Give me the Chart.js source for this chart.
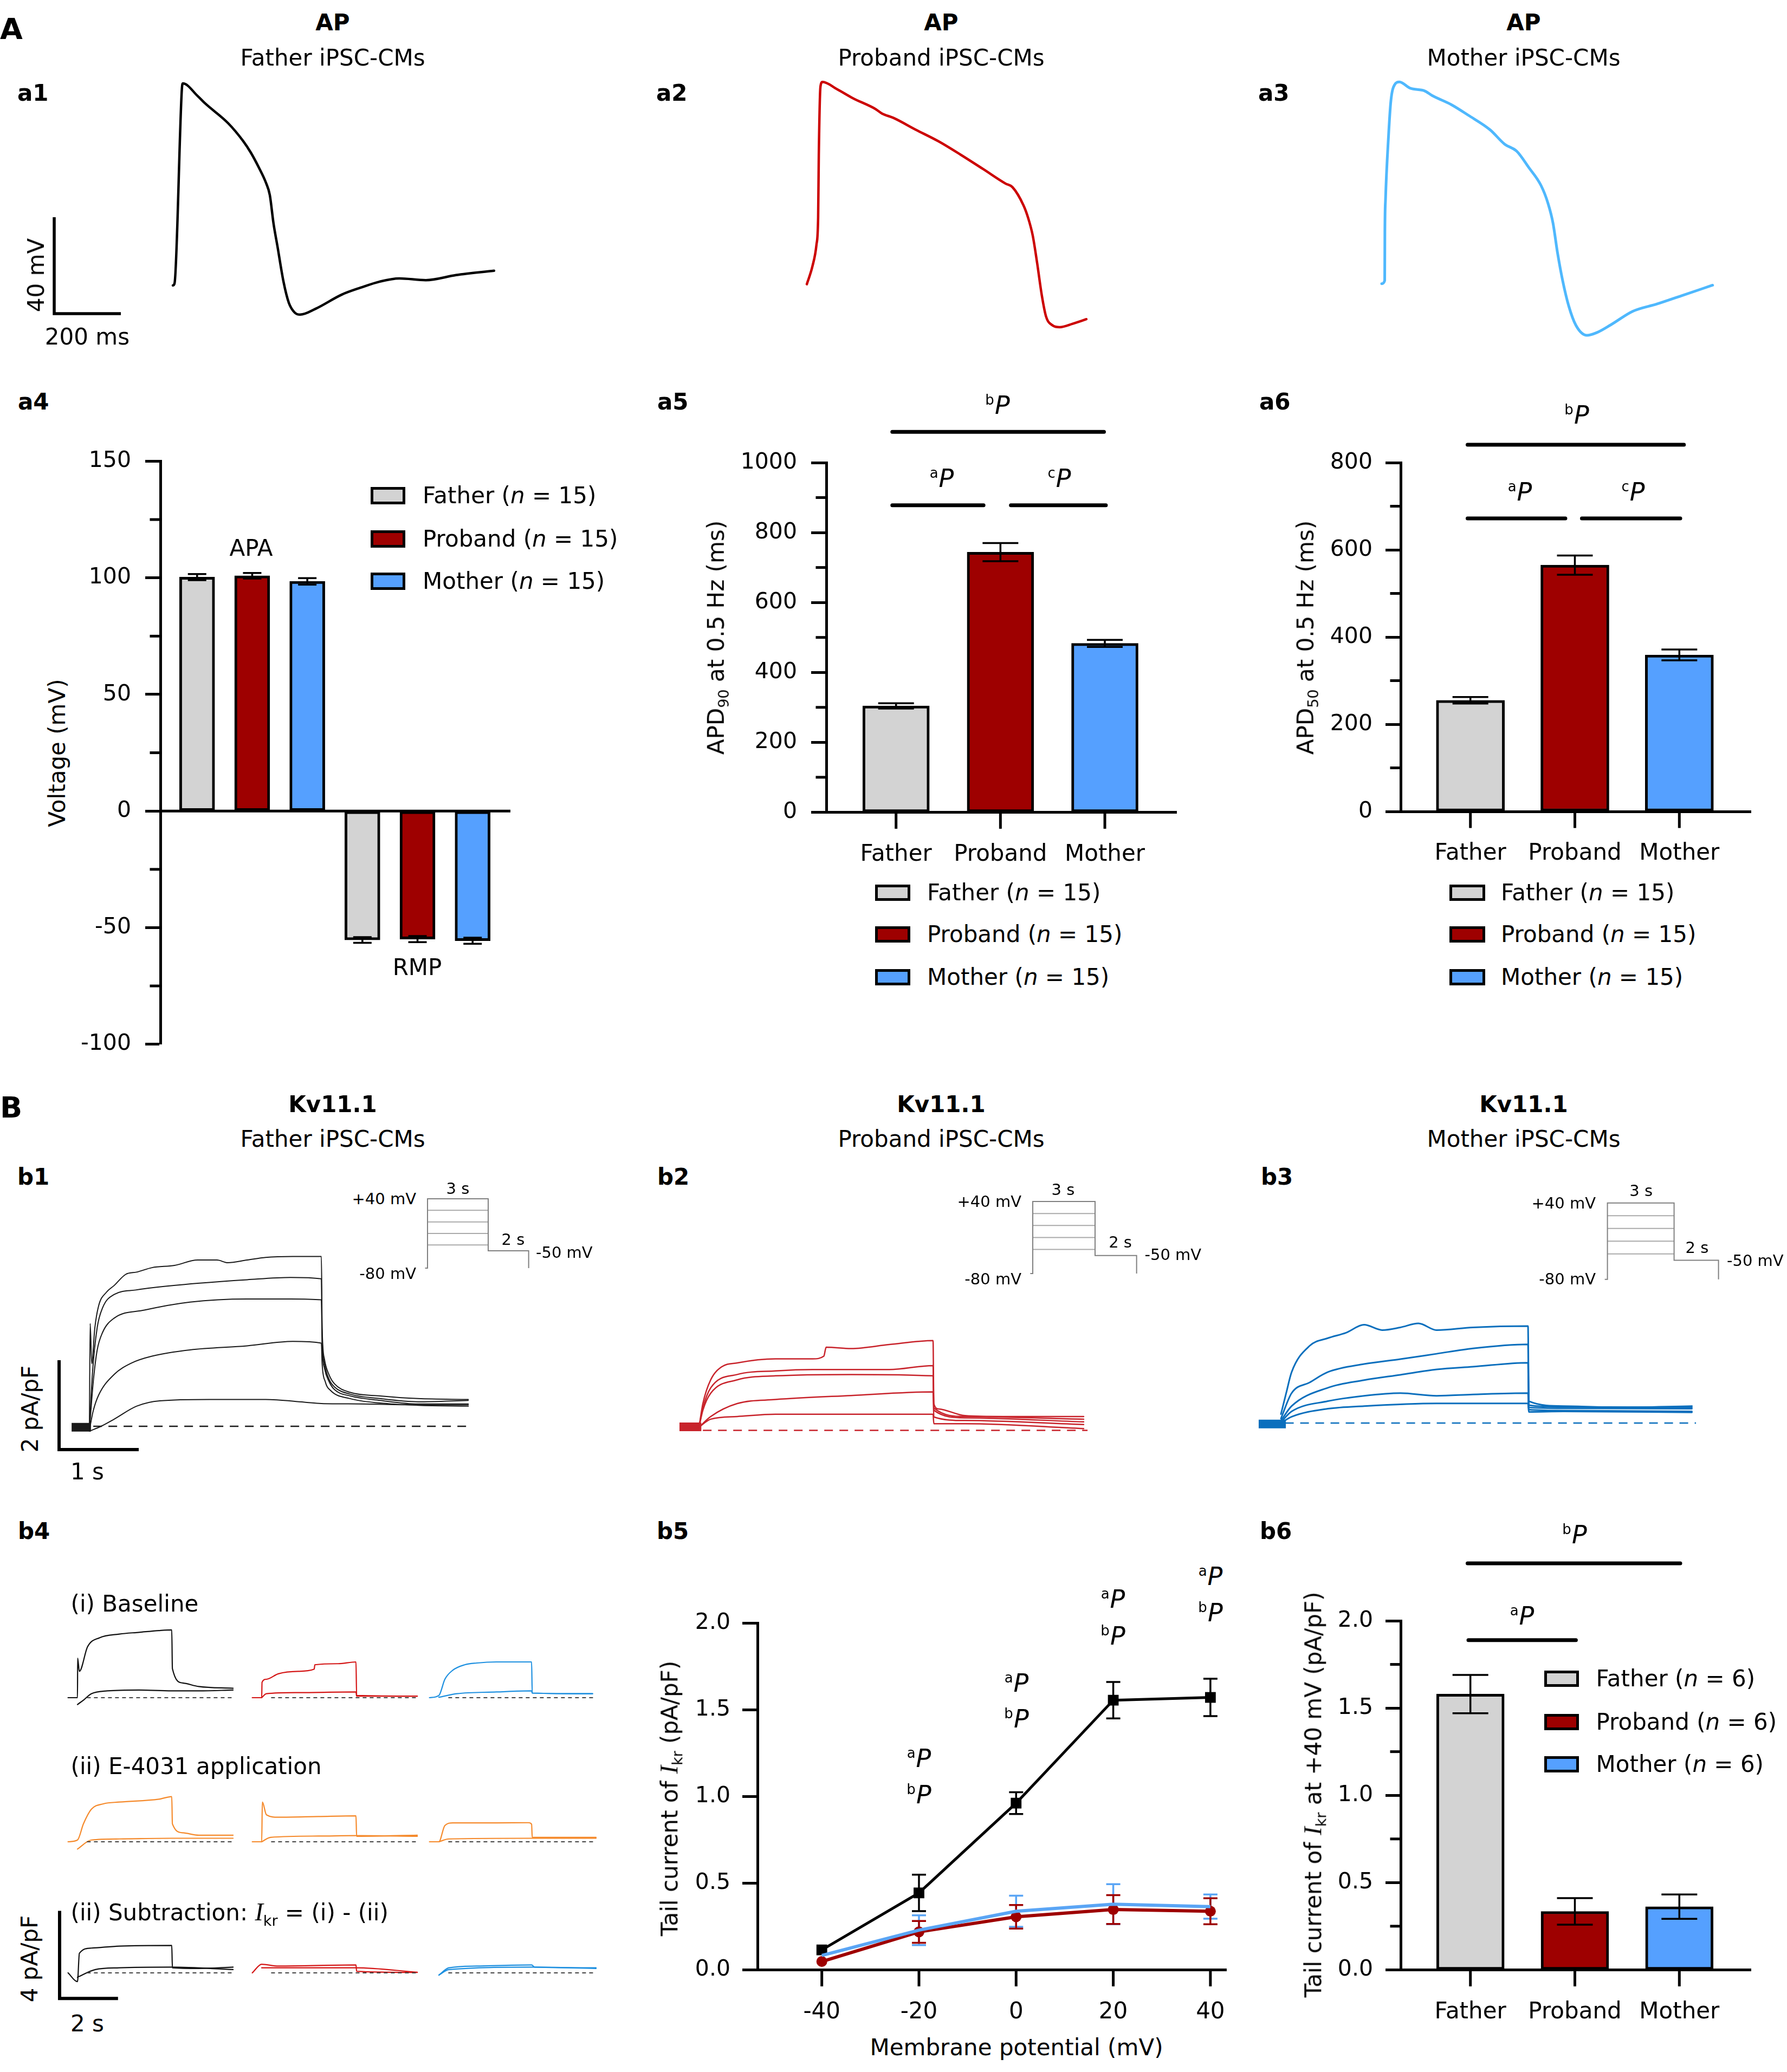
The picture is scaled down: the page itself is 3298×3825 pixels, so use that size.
<!DOCTYPE html>
<html><head><meta charset="utf-8">
<script src="https://cdn.jsdelivr.net/npm/chart.js@4.4.1/dist/chart.umd.min.js"></script>
<style>
body{margin:0;background:#fff}
#root{position:relative;width:3298px;height:3825px;overflow:hidden;background:#fff;font-family:"DejaVu Sans";color:#000}
.t{position:absolute;white-space:nowrap;line-height:1;font-size:42px}
.c{transform:translate(-50%,-50%)}
.l{transform:translate(0,-50%)}
.r{transform:translate(-100%,-50%)}
.v{transform:translate(-50%,-50%) rotate(-90deg)}
.b{font-weight:bold}
.box{position:absolute;box-sizing:border-box;border:5px solid #000}
.sup{font-size:26px;position:relative;top:-17px;margin-right:1px}
.P{font-size:46px;font-style:italic}
</style></head>
<body><div id="root"></div>
<script>
// ================= DATA =================
const groups = ['Father', 'Proband', 'Mother'];
const nAP = 15, nKv = 6;

// AP traces: [time ms, membrane potential mV]
const apFather = [[0,-68.3],[5,-67.5],[27,13],[30,15.5],[75,10.2],[97,7.2],[166,-1.0],[211,-8.4],[234,-13.2],[257,-19.1],[280,-25.9],[291,-30.8],[302,-42.5],[314,-52.1],[332,-66.7],[348,-75.5],[366,-79.6],[382,-80.4],[428,-78],[507,-72.1],[564,-69.2],[621,-66.7],[680,-65.4],[759,-66.1],[850,-64],[964,-62.2]];
const apProband = [[0,-67.8],[17,-60.3],[29,-51.4],[34,-40.2],[36,-14.2],[41,14.2],[47,16.1],[91,13.1],[138,9.4],[206,4.9],[226,3.0],[260,1.2],[327,-3.7],[395,-8.5],[462,-14.1],[530,-20.1],[597,-26.1],[617,-27.5],[650,-35.0],[664,-40.2],[678,-47.6],[691,-58.8],[705,-72.2],[718,-81.2],[738,-84.9],[759,-85.6],[798,-84.2],[839,-82.3]];
const apMother = [[0,-67.6],[9,-66.3],[9.5,-46.2],[11.4,-32.8],[20.3,-6.7],[27.6,8.3],[38.5,14.9],[53,16.1],[86,13.5],[129,12.4],[151,10.5],[209,6.7],[260,2.3],[325,-3.7],[369,-9.7],[405,-12.6],[441,-19.3],[478,-26.8],[499,-34.2],[514,-42.4],[528,-55.1],[543,-66.3],[561,-76.7],[583,-84.9],[616,-89.0],[645,-87.9],[688,-84.6],[754,-79.0],[826,-76.0],[899,-72.6],[993,-68.2]];
const apScaleBar = [[-356,-40],[-356,-80],[-156,-80]];   // 40 mV / 200 ms

// a4 APA / RMP (mV)
const apaMean = [100.3, 100.9, 98.5];
const apaSEM  = [1.3, 1.2, 1.4];
const rmpMean = [-55.3, -54.9, -55.6];
const rmpSEM  = [1.2, 1.3, 1.3];
const a4Ticks = [-100, -50, 0, 50, 100, 150];
const a4Minor = [-75, -25, 25, 75, 125];

// a5 APD90 (ms)
const apd90Mean = [304, 744, 483];
const apd90SEM  = [7.5, 26, 10];
const a5Ticks = [0, 200, 400, 600, 800, 1000];
const a5Minor = [100, 300, 500, 700, 900];
const sigA5 = [[-0.036, 0.838, 878], [1.10, 2.01, 878], [-0.036, 1.992, 1088]];

// a6 APD50 (ms)
const apd50Mean = [255, 565, 359];
const apd50SEM  = [7.5, 22, 12.5];
const a6Ticks = [0, 200, 400, 600, 800];
const a6Minor = [100, 300, 500, 700];
const sigA6 = [[-0.027, 0.909, 672], [1.067, 2.009, 672], [-0.027, 2.044, 841]];

// Kv11.1 current traces: [time s, current pA/pF]
const kvFather = [
 [[0,-0.08],[0.01,2.3],[0.03,1.4],[0.07,2.2],[0.12,2.7],[0.22,3.0],[0.32,3.15],[0.47,3.4],[0.61,3.45],[0.81,3.55],[1.1,3.6],[1.40,3.72],[1.65,3.72],[1.79,3.66],[2.04,3.72],[2.28,3.78],[2.63,3.80],[3.0,3.80],[3.01,2.2],[3.04,1.5],[3.1,1.15],[3.17,0.95],[3.37,0.76],[3.76,0.68],[4.25,0.62],[4.9,0.60]],
 [[0,-0.08],[0.04,1.2],[0.1,2.2],[0.17,2.65],[0.32,2.95],[0.6,3.05],[0.81,3.1],[1.40,3.2],[2.04,3.28],[2.6,3.33],[3.0,3.30],[3.01,2.0],[3.04,1.4],[3.1,1.05],[3.17,0.88],[3.37,0.72],[3.76,0.62],[4.25,0.55],[4.9,0.58]],
 [[0,-0.08],[0.05,1.0],[0.1,1.7],[0.17,2.1],[0.32,2.42],[0.71,2.6],[1.30,2.78],[2.04,2.85],[2.6,2.85],[3.0,2.83],[3.01,1.8],[3.04,1.3],[3.1,1.0],[3.17,0.82],[3.37,0.68],[3.76,0.58],[4.25,0.50],[4.9,0.50]],
 [[0,-0.08],[0.05,0.35],[0.12,0.7],[0.32,1.16],[0.55,1.42],[0.81,1.57],[1.30,1.71],[2.04,1.80],[2.63,1.90],[3.0,1.86],[3.01,1.4],[3.05,1.0],[3.12,0.8],[3.37,0.62],[3.76,0.52],[4.25,0.47],[4.9,0.45]],
 [[0,-0.11],[0.15,0.0],[0.32,0.16],[0.61,0.45],[0.91,0.57],[1.55,0.60],[2.28,0.60],[2.78,0.54],[3.0,0.51],[3.5,0.50],[4.25,0.48],[4.9,0.48]]
];
const kvProband = [
 [[0,0.07],[0.05,0.6],[0.15,1.13],[0.29,1.42],[0.49,1.51],[0.98,1.60],[1.46,1.60],[1.60,1.66],[1.63,1.86],[1.95,1.83],[2.44,1.92],[3.0,2.01],[3.01,0.6],[3.07,0.48],[3.41,0.33],[3.90,0.31],[4.93,0.31]],
 [[0,0.07],[0.05,0.5],[0.15,0.95],[0.49,1.25],[0.98,1.33],[1.46,1.36],[2.44,1.36],[3.0,1.45],[3.01,0.5],[3.41,0.31],[4.93,0.25]],
 [[0,0.07],[0.05,0.45],[0.15,0.83],[0.49,1.13],[0.98,1.22],[1.95,1.25],[3.0,1.22],[3.01,0.45],[3.41,0.28],[4.93,0.19]],
 [[0,0.07],[0.15,0.31],[0.49,0.60],[0.98,0.69],[1.95,0.78],[3.0,0.86],[3.01,0.3],[3.41,0.22],[4.93,0.13]],
 [[0,0.07],[0.15,0.25],[0.49,0.31],[0.98,0.36],[1.95,0.36],[3.0,0.36],[3.01,0.15],[3.41,0.15],[4.93,0.04]]
];
const kvMother = [
 [[0,0.20],[0.064,0.67],[0.13,1.14],[0.35,1.73],[0.57,1.90],[0.79,2.02],[1.01,2.20],[1.23,2.08],[1.45,2.14],[1.67,2.23],[1.89,2.08],[2.33,2.14],[3.0,2.17],[3.01,0.49],[3.43,0.38],[4.09,0.35],[4.99,0.38]],
 [[0,0.1],[0.13,0.67],[0.35,0.91],[0.57,1.14],[1.01,1.32],[1.45,1.43],[1.89,1.55],[2.33,1.67],[3.0,1.76],[3.01,0.4],[3.43,0.36],[4.99,0.35]],
 [[0,0.05],[0.13,0.38],[0.57,0.79],[1.01,0.96],[1.45,1.08],[1.89,1.20],[2.33,1.26],[3.0,1.35],[3.01,0.35],[3.43,0.33],[4.99,0.32]],
 [[0,0.02],[0.13,0.26],[0.57,0.49],[1.01,0.61],[1.45,0.67],[1.89,0.61],[2.33,0.64],[3.0,0.67],[3.01,0.3],[3.43,0.28],[4.99,0.26]],
 [[0,0.0],[0.13,0.14],[0.57,0.32],[1.01,0.38],[1.89,0.44],[3.0,0.44],[3.01,0.25],[3.43,0.26],[4.99,0.24]]
];
const kvHoldFather  = [[-0.23,-0.02],[0.02,-0.02]];
const kvHoldProband = [[-0.25,0.08],[0.03,0.08]];
const kvHoldMother  = [[-0.27,-0.02],[0.06,-0.02]];
const kvScaleBar = [[-0.392,1.479],[-0.392,-0.521],[0.638,-0.521]];   // 2 pA/pF / 1 s

// voltage protocol (mV, s)
const protoLevels = [40, 20, 0, -20, -40];
const protoHold = -80, protoTail = -50, protoStepDur = 3, protoTailDur = 2;

// b4 traces [s, pA/pF]
const b4BaseFather = [
 [[-0.3,0],[0,0],[0.005,1.8],[0.06,1.2],[0.32,2.32],[0.70,2.73],[1.33,2.90],[1.96,2.98],[2.59,3.06],[3.0,3.09],[3.02,1.33],[3.35,0.67],[3.86,0.51],[4.95,0.43]],
 [[0,-0.31],[0.2,-0.1],[0.44,0.18],[0.95,0.31],[1.96,0.35],[3.0,0.31],[3.86,0.31],[4.95,0.35]]];
const b4BaseProband = [
 [[-0.3,0],[0,0],[0.01,0.7],[0.15,0.84],[0.53,1.09],[1.16,1.20],[1.67,1.30],[1.69,1.50],[2.43,1.55],[3.0,1.63],[3.02,0.1],[4.95,0.07]],
 [[0,0],[0.15,0.18],[1.16,0.23],[3.0,0.26],[3.02,0.07],[4.95,0.07]]];
const b4BaseMother = [
 [[-0.3,0],[0,0.1],[0.19,0.84],[0.44,1.25],[0.82,1.50],[1.20,1.58],[1.83,1.63],[2.95,1.63],[2.97,0.21],[4.89,0.18]],
 [[0,0.02],[0.57,0.18],[1.83,0.26],[2.95,0.31],[2.97,0.21],[4.89,0.18]]];
const b4E4031Father = [
 [[-0.3,0],[0,0.08],[0.19,0.82],[0.44,1.48],[0.82,1.73],[1.33,1.81],[2.59,1.94],[3.0,2.06],[3.02,0.82],[3.35,0.41],[3.86,0.30],[4.95,0.30]],
 [[0,-0.33],[0.44,0.08],[1.33,0.13],[3.0,0.16],[4.95,0.16]]];
const b4E4031Proband = [
 [[-0.3,0],[0,0],[0.02,1.81],[0.15,1.23],[0.53,1.12],[1.8,1.15],[3.0,1.18],[3.02,0.25],[4.95,0.30]],
 [[0,0],[0.28,0.20],[1.8,0.26],[3.0,0.28],[4.95,0.25]]];
const b4E4031Mother = [
 [[-0.3,0],[0,0],[0.19,0.74],[0.44,0.86],[1.83,0.86],[2.85,0.87],[2.95,0.8],[2.97,0.2],[5.0,0.2]],
 [[0,0],[0.32,0.13],[2.95,0.16],[5.0,0.16]]];
const b4SubFather = [
 [[-0.3,0],[0,-0.4],[0.06,0.89],[0.44,1.13],[1.33,1.22],[3.0,1.25],[3.02,0.23],[3.86,0.20],[4.95,0.26]],
 [[0,-0.2],[0.57,0.15],[1.33,0.23],[3.0,0.26],[4.95,0.15]]];
const b4SubProband = [
 [[-0.3,0],[0,0.39],[0.53,0.31],[3.0,0.36],[3.02,0.07],[4.95,0.02]],
 [[0,0.23],[3.0,0.23],[4.95,0.03]]];
const b4SubMother = [
 [[0,-0.1],[0.32,0.23],[1.20,0.31],[2.95,0.36],[3.05,0.26],[5.0,0.23]],
 [[0,-0.1],[0.32,0.15],[2.95,0.26],[5.0,0.20]]];
const b4ScaleBar = [[-0.569,2.83],[-0.569,-1.168],[1.29,-1.168]];   // 4 pA/pF / 2 s

// b5 tail current-voltage
const membraneV = [-40, -20, 0, 20, 40];
const tailFather  = [0.115, 0.444, 0.962, 1.556, 1.572];
const tailFatherSEM  = [0, 0.105, 0.063, 0.105, 0.108];
const tailProband = [0.048, 0.219, 0.306, 0.348, 0.338];
const tailProbandSEM = [0, 0.063, 0.068, 0.083, 0.075];
const tailMother  = [0.083, 0.229, 0.338, 0.379, 0.365];
const tailMotherSEM  = [0, 0.086, 0.09, 0.115, 0.07];
const b5YTicks = [0, 0.5, 1, 1.5, 2];

// b6 tail current at +40 mV
const tail40Mean = [1.58, 0.335, 0.362];
const tail40SEM  = [0.11, 0.076, 0.07];
const b6Ticks = [0, 0.5, 1, 1.5, 2];
const b6Minor = [0.25, 0.75, 1.25, 1.75];
const sigB6 = [[-0.019, 1.01, 1.889], [-0.027, 2.009, 2.329]];

// ================= STYLE =================
const FILL = ['#d3d3d3', '#9e0000', '#55a0ff'];
const LINE5 = ['#000000', '#9e0000', '#5aa5f5'];
Chart.defaults.font.family = 'DejaVu Sans';
Chart.defaults.color = '#000';
Chart.defaults.animation = false;
const root = document.getElementById('root');

function mkCanvas(l, t, w, h) {
  const c = document.createElement('canvas');
  c.width = w; c.height = h;
  c.style.cssText = `position:absolute;left:${l}px;top:${t}px;width:${w}px;height:${h}px`;
  root.appendChild(c); return c;
}
function txt(html, x, y, cls, style) {
  const d = document.createElement('div');
  d.className = 't ' + (cls || 'c');
  d.style.left = x + 'px'; d.style.top = y + 'px';
  if (style) d.style.cssText += style;
  d.innerHTML = html; root.appendChild(d); return d;
}
function sig(letter) { return `<span class="sup">${letter}</span><span class="P">P</span>`; }
function pts(pairs) { return pairs.map(p => ({x: p[0], y: p[1]})); }
function ln(pairs, color, width, opt) {
  return Object.assign({data: pts(pairs), borderColor: color, borderWidth: width, pointRadius: 0, fill: false,
    cubicInterpolationMode: 'monotone', clip: false, borderJoinStyle: 'round', borderCapStyle: 'round'}, opt || {});
}
function straight(pairs, color, width, opt) {
  return ln(pairs, color, width, Object.assign({cubicInterpolationMode: 'default', tension: 0, borderCapStyle: 'butt', borderJoinStyle: 'miter'}, opt || {}));
}
// trace panel with a calibrated frame: origin pixel (ox, oy) and pixels per unit (sx, sy)
function frameChart(f, datasets) {
  const cv = mkCanvas(f.left, f.top, f.w, f.h);
  return new Chart(cv, {type: 'line', data: {datasets},
    options: {responsive: false, animation: false, devicePixelRatio: 1, events: [],
      layout: {autoPadding: false, padding: 0},
      plugins: {legend: {display: false}, tooltip: {enabled: false}},
      scales: {
        x: {type: 'linear', display: false, min: (f.left - f.ox) / f.sx, max: (f.left + f.w - f.ox) / f.sx},
        y: {type: 'linear', display: false, min: (f.oy - f.top - f.h) / f.sy, max: (f.oy - f.top) / f.sy}}}});
}

// -------- plugins --------
function errorPlugin() {
  function draw(chart, behind) {
    const ctx = chart.ctx, ys = chart.scales.y;
    chart.data.datasets.forEach((ds, di) => {
      if (!ds.errors || !!ds.errorBehind !== behind) return;
      const meta = chart.getDatasetMeta(di);
      meta.data.forEach((el, i) => {
        const e = ds.errors[i]; if (!e) return;
        const v = ds.data[i].y;
        const yt = ys.getPixelForValue(v + e), yb = ys.getPixelForValue(v - e);
        const hw = (ds.errorCap || 30) / 2;
        ctx.save();
        ctx.strokeStyle = ds.errorColor || '#000'; ctx.lineWidth = ds.errorWidth || 3.5;
        ctx.beginPath();
        ctx.moveTo(el.x, yt); ctx.lineTo(el.x, yb);
        ctx.moveTo(el.x - hw, yt); ctx.lineTo(el.x + hw, yt);
        ctx.moveTo(el.x - hw, yb); ctx.lineTo(el.x + hw, yb);
        ctx.stroke(); ctx.restore();
      });
    });
  }
  return {id: 'errbars', beforeDatasetsDraw(c) { draw(c, true); }, afterDatasetsDraw(c) { draw(c, false); }};
}
function minorPlugin(values, len) {
  return {id: 'minor', afterDraw(chart) {
    const ctx = chart.ctx, ys = chart.scales.y, L = chart.chartArea.left;
    ctx.save(); ctx.strokeStyle = '#000'; ctx.lineWidth = 5;
    values.forEach(v => { const y = ys.getPixelForValue(v); ctx.beginPath(); ctx.moveTo(L - 2.5 - len, y); ctx.lineTo(L, y); ctx.stroke(); });
    ctx.restore();
  }};
}
// x tick marks drawn exactly at the tick values (downwards from the x axis)
function xTickPlugin(values, len) {
  return {id: 'xticks', afterDraw(chart) {
    const ctx = chart.ctx, xs = chart.scales.x, B = chart.chartArea.bottom;
    ctx.save(); ctx.strokeStyle = '#000'; ctx.lineWidth = 5;
    values.forEach(v => { const x = xs.getPixelForValue(v); ctx.beginPath(); ctx.moveTo(x, B); ctx.lineTo(x, B + 2.5 + len); ctx.stroke(); });
    ctx.restore();
  }};
}
function sigPlugin(lines) {
  return {id: 'sig', afterDraw(chart) {
    const ctx = chart.ctx, xs = chart.scales.x, ys = chart.scales.y;
    ctx.save(); ctx.strokeStyle = '#000'; ctx.lineWidth = 7; ctx.lineCap = 'round';
    lines.forEach(([a, b, v]) => { const y = ys.getPixelForValue(v); ctx.beginPath(); ctx.moveTo(xs.getPixelForValue(a), y); ctx.lineTo(xs.getPixelForValue(b), y); ctx.stroke(); });
    ctx.restore();
  }};
}
function zeroPlugin() {
  return {id: 'zero', afterDraw(chart) {
    const ctx = chart.ctx, ys = chart.scales.y, a = chart.chartArea, y = ys.getPixelForValue(0);
    ctx.save(); ctx.strokeStyle = '#000'; ctx.lineWidth = 5;
    ctx.beginPath(); ctx.moveTo(a.left, y); ctx.lineTo(a.right, y); ctx.stroke(); ctx.restore();
  }};
}

// -------- axis chart (bars / IV) --------
function axisChart(c) {
  const cv = mkCanvas(c.left, c.top, c.w, c.h);
  const plugins = [errorPlugin()];
  if (c.minor) plugins.push(minorPlugin(c.minor, 17));
  if (c.xTicks) plugins.push(xTickPlugin(c.xTicks, 28));
  if (c.sig) plugins.push(sigPlugin(c.sig));
  if (c.zero) plugins.push(zeroPlugin());
  const xShow = !!c.xTicks;
  return new Chart(cv, {type: c.type || 'bar', data: {datasets: c.datasets},
    options: {responsive: false, animation: false, devicePixelRatio: 1, events: [],
      layout: {autoPadding: false, padding: {top: c.area.t - c.top, right: c.left + c.w - c.area.r, left: 0, bottom: 0}},
      plugins: {legend: {display: false}, tooltip: {enabled: false}},
      scales: {
        x: {type: 'linear', min: c.xmin, max: c.xmax, offset: false, display: true,
          afterBuildTicks: s => { s.ticks = (c.xTicks || []).map(v => ({value: v})); },
          ticks: {display: xShow, autoSkip: false, maxRotation: 0, font: {size: 42}, color: '#000', padding: c.xPad || 25, callback: c.xFmt || (() => '')},
          grid: {display: xShow, offset: false, drawOnChartArea: false, drawTicks: xShow, tickLength: 28, tickWidth: 5, tickColor: 'rgba(0,0,0,0)'},
          border: {display: xShow, width: 5, color: '#000'},
          afterFit: s => { s.height = c.top + c.h - c.area.b; }},
        y: {type: 'linear', min: c.ymin, max: c.ymax,
          afterBuildTicks: s => { s.ticks = c.yTicks.map(v => ({value: v})); },
          ticks: {autoSkip: false, font: {size: 41}, color: '#000', padding: c.yPad || 24, callback: c.yFmt},
          grid: {offset: false, drawOnChartArea: false, drawTicks: true, tickLength: 28, tickWidth: 5, tickColor: '#000'},
          border: {display: true, width: 5, color: '#000'},
          afterFit: s => { s.width = c.area.l - c.left; }}}},
    plugins});
}
function barSet(xs, means, sems, colors, w, cap) {
  return {data: means.map((v, i) => ({x: xs[i], y: v})), backgroundColor: colors, borderColor: '#000', borderWidth: 5,
    borderSkipped: false, barThickness: w, grouped: false, errors: sems, errorCap: cap, errorWidth: 3.5};
}
function legend(boxL, boxW, boxH, centers, textL, n) {
  groups.forEach((g, i) => {
    const b = document.createElement('div'); b.className = 'box';
    b.style.cssText += `left:${boxL}px;top:${centers[i] - boxH / 2}px;width:${boxW}px;height:${boxH}px;background:${FILL[i]}`;
    root.appendChild(b);
    txt(`${g} (<i>n</i> = ${n})`, textL, centers[i], 'l');
  });
}
const idx3 = [0, 1, 2];
const catFmt = v => groups[v];

// ================= PANEL A =================
const apFrames = [
  {left: 60,   top: 130, w: 920, h: 540, ox: 319,  oy: 223, sx: 0.615, sy: 4.45},
  {left: 1230, top: 130, w: 920, h: 540, ox: 1489, oy: 223, sx: 0.615, sy: 4.45},
  {left: 2290, top: 130, w: 920, h: 540, ox: 2550, oy: 223, sx: 0.615, sy: 4.45}];
frameChart(apFrames[0], [ln(apFather, '#000000', 4.5), straight(apScaleBar, '#000', 5.5)]);
frameChart(apFrames[1], [ln(apProband, '#cc0000', 4.5)]);
frameChart(apFrames[2], [ln(apMother, '#4fb8fd', 5)]);

// a4
axisChart({left: 150, top: 800, w: 850, h: 1260, area: {l: 296, r: 942, t: 851.5, b: 1927.7},
  xmin: -0.666, xmax: 5.686, ymin: -100, ymax: 150, yTicks: a4Ticks, minor: a4Minor, yPad: 26,
  yFmt: v => String(v), zero: true,
  datasets: [barSet(idx3, apaMean, apaSEM, FILL, 65, 34), barSet([3, 4, 5], rmpMean, rmpSEM, FILL, 65, 34)]});
// a5
axisChart({left: 1250, top: 720, w: 1000, h: 920, area: {l: 1525, r: 2171, t: 854, b: 1499.4},
  xmin: -0.668, xmax: 2.685, xTicks: idx3, xFmt: catFmt, ymin: 0, ymax: 1000, yTicks: a5Ticks, minor: a5Minor, yPad: 26,
  yFmt: v => String(v), sig: sigA5, datasets: [barSet(idx3, apd90Mean, apd90SEM, FILL, 123, 66)]});
// a6
axisChart({left: 2310, top: 720, w: 980, h: 920, area: {l: 2585, r: 3231, t: 854, b: 1498},
  xmin: -0.6675, xmax: 2.683, xTicks: idx3, xFmt: catFmt, ymin: 0, ymax: 800, yTicks: a6Ticks, minor: a6Minor, yPad: 24,
  yFmt: v => String(v), sig: sigA6, datasets: [barSet(idx3, apd50Mean, apd50SEM, FILL, 126, 66)]});

// ================= PANEL B =================
function kvPanel(f, traces, hold, color, w, extra) {
  const sets = traces.map(tr => ln(tr, color, w));
  sets.push(straight(hold, color, 16));
  const t0 = traces[0][0][0], t1 = traces[0][traces[0].length - 1][0];
  sets.push(straight([[t0 + 0.05, 0], [t1 + 0.05, 0]], color, 2.5, {borderDash: [16, 12]}));
  (extra || []).forEach(s => sets.push(s));
  frameChart(f, sets);
}
kvPanel({left: 95, top: 2290, w: 810, h: 420, ox: 165, oy: 2633, sx: 142.7, sy: 82.5}, kvFather, kvHoldFather, '#1a1a1a', 2,
  [straight(kvScaleBar, '#000', 6)]);
kvPanel({left: 1230, top: 2290, w: 820, h: 420, ox: 1290, oy: 2640.5, sx: 144, sy: 82.5}, kvProband, kvHoldProband, '#c8232b', 2.5);
kvPanel({left: 2300, top: 2290, w: 880, h: 420, ox: 2364, oy: 2627, sx: 152, sy: 82.5}, kvMother, kvHoldMother, '#0b6fbd', 3);

// voltage protocols
function protoPanel(f) {
  const T = protoStepDur, T2 = protoStepDur + protoTailDur;
  const sets = [straight([[-0.12, protoHold], [0, protoHold], [0, protoLevels[0]], [T, protoLevels[0]], [T, protoTail], [T2, protoTail], [T2, protoHold]], '#808080', 2)];
  protoLevels.slice(1).forEach(v => sets.push(straight([[0, v], [T, v]], '#aaaaaa', 2)));
  frameChart(f, sets);
}
protoPanel({left: 770, top: 2190, w: 230, h: 180, ox: 789, oy: 2213 + 40 * 1.0667, sx: 37.33, sy: 1.0667});
protoPanel({left: 1880, top: 2195, w: 240, h: 185, ox: 1906, oy: 2218 + 40 * 1.1078, sx: 38.33, sy: 1.1078});
protoPanel({left: 2940, top: 2195, w: 260, h: 195, ox: 2966.6, oy: 2220.7 + 40 * 1.1744, sx: 41, sy: 1.1744});

// b4 mini traces
const b4Rows = [[b4BaseFather, b4BaseProband, b4BaseMother], [b4E4031Father, b4E4031Proband, b4E4031Mother], [b4SubFather, b4SubProband, b4SubMother]];
const b4RowBase = [3134, 3400, 3642.4];
const b4ColX = [143, 482.6, 810.4];
const b4Colors = [['#111111', '#d41515', '#1e90e0'], ['#f58a2c', '#f58a2c', '#f58a2c'], ['#111111', '#d41515', '#1e90e0']];
b4Rows.forEach((row, r) => row.forEach((traces, c) => {
  const col = b4Colors[r][c];
  const sets = traces.map(tr => ln(tr, col, 2.2));
  sets.unshift(straight([[0.3, 0], [4.95, 0]], '#444', 1.8, {borderDash: [7, 6]}));
  if (r === 2 && c === 0) sets.push(straight(b4ScaleBar, '#000', 6));
  frameChart({left: b4ColX[c] - 45, top: b4RowBase[r] - 150, w: 345, h: 210, ox: b4ColX[c], oy: b4RowBase[r], sx: 58, sy: 40.5}, sets);
}));

// b5 IV curves
function ivSet(vals, sems, color, style, radius, lw) {
  return {data: membraneV.map((v, i) => ({x: v, y: vals[i]})), borderColor: color, borderWidth: lw, tension: 0,
    pointStyle: style, pointRadius: radius, pointBackgroundColor: color, pointBorderColor: color, pointBorderWidth: 0,
    fill: false, clip: false, errors: sems, errorColor: color, errorBehind: true, errorCap: 26, errorWidth: 3.5};
}
axisChart({type: 'line', left: 1200, top: 2950, w: 1100, h: 800, area: {l: 1398, r: 2263, t: 2996.6, b: 3636.4},
  xmin: -53.24, xmax: 43.25, xTicks: membraneV, xFmt: v => String(v), ymin: 0, ymax: 2, yTicks: b5YTicks, yPad: 22,
  yFmt: v => v.toFixed(1),
  datasets: [ivSet(tailMother, tailMotherSEM, LINE5[2], 'circle', 0, 6), ivSet(tailProband, tailProbandSEM, LINE5[1], 'circle', 10, 6),
             ivSet(tailFather, tailFatherSEM, LINE5[0], 'rect', 14, 5)]});
// b6
axisChart({left: 2380, top: 2850, w: 900, h: 900, area: {l: 2585, r: 3231, t: 2992, b: 3636.4},
  xmin: -0.6675, xmax: 2.683, xTicks: idx3, xFmt: catFmt, ymin: 0, ymax: 2, yTicks: b6Ticks, minor: b6Minor, yPad: 23,
  yFmt: v => v.toFixed(1), sig: sigB6, datasets: [barSet(idx3, tail40Mean, tail40SEM, FILL, 125, 66)]});

// ================= TEXT =================
txt('A', 0, 54, 'l b', 'font-size:54px');
txt('B', 0, 2045, 'l b', 'font-size:54px');
[['a1', 32, 172], ['a2', 1211, 172], ['a3', 2322, 172], ['a4', 33, 742], ['a5', 1213, 742], ['a6', 2324, 742],
 ['b1', 32, 2173], ['b2', 1213, 2173], ['b3', 2327, 2173], ['b4', 33, 2827], ['b5', 1212, 2827], ['b6', 2325, 2827]]
 .forEach(([s, x, y]) => txt(s, x, y, 'l b'));
const colCenters = [614, 1737, 2812];
groups.forEach((g, i) => {
  txt('AP', colCenters[i], 42, 'c b');
  txt(g + ' iPSC-CMs', colCenters[i], 107);
  txt('Kv11.1', colCenters[i], 2039, 'c b');
  txt(g + ' iPSC-CMs', colCenters[i], 2103);
});
// scale bars
txt('40 mV', 67, 508, 'v');
txt('200 ms', 161, 622);
txt('2 pA/pF', 56, 2601, 'v');
txt('1 s', 161, 2717);
txt('4 pA/pF', 55, 3616, 'v');
txt('2 s', 161, 3736);
// protocol labels
[[768, 2213, 2351, 845, 2194, 947, 2288, 989, 2312],
 [1885, 2218, 2361, 1962, 2196, 2067.6, 2293, 2112.5, 2315.7],
 [2945, 2221, 2361, 3028.7, 2198, 3132, 2302.7, 3187, 2327]].forEach(p => {
  txt('+40 mV', p[0], p[1], 'r', 'font-size:29px');
  txt('-80 mV', p[0], p[2], 'r', 'font-size:29px');
  txt('3 s', p[3], p[4], 'c', 'font-size:29px');
  txt('2 s', p[5], p[6], 'c', 'font-size:29px');
  txt('-50 mV', p[7], p[8], 'l', 'font-size:29px');
});
// a4
txt('Voltage (mV)', 106, 1390, 'v');
txt('APA', 463.5, 1012);
txt('RMP', 770, 1786);
legend(683.5, 64.5, 32, [915, 995, 1073], 780, nAP);
// a5 / a6
txt('APD<sub style="font-size:27px">90</sub> at 0.5 Hz (ms)', 1325, 1177, 'v');
txt('APD<sub style="font-size:27px">50</sub> at 0.5 Hz (ms)', 2413, 1177, 'v');
legend(1615, 65, 30, [1647.5, 1724.6, 1803.8], 1711, nAP);
legend(2674.7, 66, 30, [1647.5, 1725, 1804], 2770, nAP);
txt(sig('b'), 1841, 748); txt(sig('a'), 1738, 883); txt(sig('c'), 1955, 883);
txt(sig('b'), 2910, 766); txt(sig('a'), 2805, 908); txt(sig('c'), 3014, 908);
// b4 labels
txt('(i) Baseline', 130.5, 2961, 'l');
txt('(ii) E-4031 application', 130.5, 3261, 'l');
txt('(ii) Subtraction: <i style="font-family:\'Liberation Serif\';font-size:46px">I</i><sub style="font-size:27px">kr</sub> = (i) - (ii)', 130.5, 3533, 'l');
// b5
const Ikr = '<i style="font-family:\'Liberation Serif\';font-size:46px">I</i><sub style="font-size:27px">kr</sub>';
txt('Tail current of ' + Ikr + ' (pA/pF)', 1238, 3320, 'v');
txt('Membrane potential (mV)', 1876, 3780);
[[1696, 3246, 3313], [1876, 3107, 3173], [2054, 2952, 3020], [2234, 2910, 2977]].forEach(([x, ya, yb]) => {
  txt(sig('a'), x, ya); txt(sig('b'), x, yb);
});
// b6
txt('Tail current of ' + Ikr + ' at +40 mV (pA/pF)', 2426, 3313, 'v');
legend(2850, 64, 30, [3098.5, 3178.5, 3256.5], 2945.5, nKv);
txt(sig('b'), 2906, 2833); txt(sig('a'), 2809, 2983);
</script>
</body></html>
